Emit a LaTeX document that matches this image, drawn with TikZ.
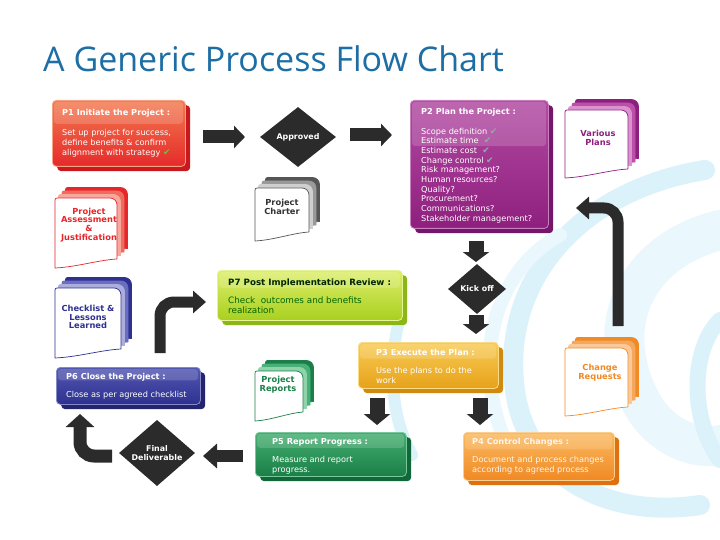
\documentclass[tikz,border=0pt]{standalone}
\usepackage{fontspec}
\setmainfont{Liberation Sans}
\newfontfamily\boxfont{DejaVu Sans}
\newfontfamily\titlefont{Open Sans}
\newfontfamily\symfont{DejaVu Sans}
\usetikzlibrary{shapes.geometric,arrows.meta}
\definecolor{titleblue}{HTML}{1C6EA4}
\definecolor{arrowgray}{HTML}{2B2B2B}
\definecolor{swirlA}{HTML}{DBF2FB}
\definecolor{swirlB}{HTML}{EAF8FD}
% box colours
\definecolor{pOneT}{HTML}{F37A50}\definecolor{pOneB}{HTML}{E52A2A}\definecolor{pOneS}{HTML}{C8191E}
\definecolor{pTwoT}{HTML}{B24AA2}\definecolor{pTwoB}{HTML}{8E1F7E}\definecolor{pTwoS}{HTML}{74176A}
\definecolor{pSevT}{HTML}{DDEE6A}\definecolor{pSevB}{HTML}{A9D020}\definecolor{pSevS}{HTML}{8CB516}
\definecolor{pThrT}{HTML}{F8CB55}\definecolor{pThrB}{HTML}{E7A21A}\definecolor{pThrS}{HTML}{D08A10}
\definecolor{pSixT}{HTML}{5257B0}\definecolor{pSixB}{HTML}{2E3190}\definecolor{pSixS}{HTML}{23266E}
\definecolor{pFivT}{HTML}{44AE70}\definecolor{pFivB}{HTML}{1A7F47}\definecolor{pFivS}{HTML}{10683A}
\definecolor{pFouT}{HTML}{FABA60}\definecolor{pFouB}{HTML}{F08A24}\definecolor{pFouS}{HTML}{DE7010}
% document colours
\definecolor{dRedA}{HTML}{E5262B}\definecolor{dRedB}{HTML}{F06A5E}\definecolor{dRedC}{HTML}{F8A79C}
\definecolor{dBluA}{HTML}{2E3190}\definecolor{dBluB}{HTML}{6A6DC0}\definecolor{dBluC}{HTML}{ABADDD}
\definecolor{dGryA}{HTML}{555555}\definecolor{dGryB}{HTML}{999999}\definecolor{dGryC}{HTML}{CFCFCF}
\definecolor{dMagA}{HTML}{8E1F7E}\definecolor{dMagB}{HTML}{BA50A8}\definecolor{dMagC}{HTML}{DC92CF}
\definecolor{dOrnA}{HTML}{F08A24}\definecolor{dOrnB}{HTML}{F5A75E}\definecolor{dOrnC}{HTML}{FAC99A}
\definecolor{dGrnA}{HTML}{1A8048}\definecolor{dGrnB}{HTML}{4AB07A}\definecolor{dGrnC}{HTML}{8FD3AB}
\definecolor{chkGreen}{HTML}{6DBE45}
\definecolor{chkGray}{HTML}{8EAEA6}
\tikzset{
  blk/.style={draw=arrowgray, line width=13pt, -{Triangle[length=11pt,width=22pt]}},
  elbow/.style={draw=arrowgray, line width=11pt, rounded corners=14pt, -{Triangle[length=13pt,width=22pt]}},
  boxside/.style={anchor=north west, rounded corners=4pt, inner sep=0pt},
  boxface/.style={anchor=north west, rounded corners=4pt, inner sep=0pt, line width=0.8pt},
  ttl/.style={anchor=west, font=\boxfont\bfseries\fontsize{8.2}{10}\selectfont, inner sep=0pt, text=white},
  bdy/.style={anchor=north west, align=left, font=\boxfont\fontsize{8.2}{9.9}\selectfont, inner sep=0pt, text=white},
  dia/.style={diamond, fill=arrowgray, text=white, font=\boxfont\bfseries\fontsize{7.9}{9.2}\selectfont, inner sep=0pt, align=center},
  doctxt/.style={align=center, font=\boxfont\bfseries\fontsize{8.3}{8.8}\selectfont, inner sep=0pt},
}
\newcommand\chk[1]{{\symfont\fontsize{9}{9}\selectfont\textcolor{#1}{✔}}}
\newcommand\procbox[8]{%
  \node[boxside, fill=#8, minimum width=#4, minimum height=#5] (#1s) at ({#2+5},{#3+5}) {};
  \node[boxface, top color=#6, bottom color=#7, draw=#6!70!white, minimum width=#4, minimum height=#5] (#1) at (#2,#3) {};
  \fill[white, opacity=0.16, rounded corners=3pt] ({#2+2},{#3+2}) rectangle ({#2+#4-2},{#3+0.36*#5});
}
\newcommand\docpage[6]{%
  \filldraw[fill=#5, draw=#6, line width=0.7pt, line join=round]
   ({#1},{#2+#4}) [rounded corners=2pt] -- ({#1},{#2}) [rounded corners=7pt] -- ({#1+#3},{#2}) [sharp corners]
   -- ({#1+#3},{#2+#4-9}) .. controls ({#1+0.7*#3},{#2+#4-8}) and ({#1+0.35*#3},{#2+#4-1}) .. ({#1},{#2+#4}) -- cycle;
}
\newcommand\docstack[7]{%
  \docpage{#1+10.5}{#2-10.5}{#3}{#4}{#5}{#5}
  \docpage{#1+7}{#2-7}{#3}{#4}{#6}{#6}
  \docpage{#1+3.5}{#2-3.5}{#3}{#4}{#7}{#7}
  \docpage{#1}{#2}{#3}{#4}{white}{#5}
}
\begin{document}
\begin{tikzpicture}[x=1pt,y=-1pt]
\useasboundingbox (0,0) rectangle (720,540);
\fill[white] (0,0) rectangle (720,540);
% background swirl
\begin{scope}[line cap=round]
\draw[swirlB, line width=40pt] (720,230) .. controls (640,250) and (600,320) .. (640,400) .. controls (660,440) and (700,450) .. (720,445);
\draw[swirlA, line width=20pt] (705,170) .. controls (580,190) and (500,280) .. (515,390) .. controls (525,470) and (600,520) .. (700,505);
\draw[swirlA, line width=12pt] (398,325) .. controls (388,370) and (392,420) .. (412,455);
\draw[swirlB, line width=14pt] (560,235) .. controls (480,280) and (470,390) .. (520,470);
\draw[swirlA, line width=16pt] (720,320) .. controls (690,350) and (690,420) .. (720,460);
\end{scope}
% title
\node[anchor=base west, font=\titlefont\fontsize{34}{38}\selectfont, text=titleblue, inner sep=0pt] (title) at (43,72) {A Generic Process Flow Chart};
% process boxes
\procbox{p1}{52}{100}{133}{66}{pOneT}{pOneB}{pOneS}
\procbox{p2}{410}{100}{138}{128}{pTwoT}{pTwoB}{pTwoS}
\procbox{p7}{217}{270}{185}{50}{pSevT}{pSevB}{pSevS}
\procbox{p3}{358}{342}{140}{46}{pThrT}{pThrB}{pThrS}
\procbox{p6}{56}{367}{144}{37}{pSixT}{pSixB}{pSixS}
\procbox{p5}{255}{432}{151}{44}{pFivT}{pFivB}{pFivS}
\procbox{p4}{463}{432}{151}{48}{pFouT}{pFouB}{pFouS}
% box texts
\node[ttl] (p1t) at (62,113) {P1 Initiate the Project :};
\node[bdy] (p1b) at (62,129.5) {Set up project for success,\\define benefits \& confirm\\alignment with strategy \chk{chkGreen}};
\node[ttl] (p2t) at (421,112) {P2 Plan the Project :};
\node[bdy, font=\boxfont\fontsize{8.2}{9.7}\selectfont] (p2b) at (421,127.6) {Scope definition \chk{chkGray}\\Estimate time\ \ \chk{chkGray}\\Estimate cost\ \ \chk{chkGray}\\Change control \chk{chkGray}\\Risk management?\\Human resources?\\Quality?\\Procurement?\\Communications?\\Stakeholder management?};
\node[ttl, text=black!85!green, font=\boxfont\bfseries\fontsize{8.7}{11}\selectfont] (p7t) at (228,283) {P7 Post Implementation Review :};
\node[bdy, text=black!60!green, font=\boxfont\fontsize{8.8}{10}\selectfont] (p7b) at (228,297) {Check\ \ outcomes and benefits\\realization};
\node[ttl] (p3t) at (376,352) {P3 Execute the Plan :};
\node[bdy] (p3b) at (376,367.5) {Use the plans to do the\\work};
\node[ttl] (p6t) at (66,377) {P6 Close the Project :};
\node[bdy] (p6b) at (66,391.5) {Close as per agreed checklist};
\node[ttl] (p5t) at (272,442) {P5 Report Progress :};
\node[bdy] (p5b) at (272,456.5) {Measure and report\\progress.};
\node[ttl, text=white!92!orange] (p4t) at (472,442) {P4 Control Changes :};
\node[bdy, text=white!92!orange] (p4b) at (472,456.5) {Document and process changes\\according to agreed process};
% documents
\docstack{255}{188}{54}{53}{dGryA}{dGryB}{dGryC}
\node[doctxt, text=black!80] (charter) at (282,207) {Project\\Charter};
\docstack{565}{110}{63}{68}{dMagA}{dMagB}{dMagC}
\node[doctxt, text=dMagA] (plans) at (598,138) {Various\\Plans};
\docstack{55}{198}{62}{70}{dRedA}{dRedB}{dRedC}
\node[doctxt, text=dRedA] (assess) at (89,225) {Project\\Assessment\\\&\\Justification};
\docstack{55}{288}{66}{70}{dBluA}{dBluB}{dBluC}
\node[doctxt, text=dBluA] (check) at (88,317) {Checklist \&\\Lessons\\Learned};
\docstack{255}{371}{48}{50}{dGrnA}{dGrnB}{dGrnC}
\node[doctxt, text=dGrnA] (reports) at (278,385) {Project\\Reports};
\docstack{565}{348}{63}{68}{dOrnA}{dOrnB}{dOrnC}
\node[doctxt, text=dOrnA] (chreq) at (600,373) {Change\\Requests};
% diamonds
\node[dia, minimum width=76pt, minimum height=60pt] (appr) at (298,137) {Approved};
\node[dia, minimum width=58pt, minimum height=50pt] (kick) at (477,289) {Kick off};
\node[dia, minimum width=76pt, minimum height=56pt] (final) at (157,453) {Final\\Deliverable};
% connector end points
\coordinate (a1s) at (203,137); \coordinate (a1e) at (245,137);
\coordinate (a2s) at (350,135); \coordinate (a2e) at (392,135);
\coordinate (a3s) at (476,241); \coordinate (a3e) at (476,262);
\coordinate (a4s) at (476,315); \coordinate (a4e) at (476,334);
\coordinate (a5s) at (377,398); \coordinate (a5e) at (377,425);
\coordinate (a6s) at (480,398); \coordinate (a6e) at (480,425);
\coordinate (a7s) at (243,456); \coordinate (a7e) at (203,456);
\coordinate (a8s) at (112,456); \coordinate (a8e) at (80,414);
\coordinate (a9s) at (160,353); \coordinate (a9e) at (206,302);
\coordinate (a10s) at (618,326); \coordinate (a10e) at (576,208);
% connectors
\draw[blk] (a1s) -- (a1e);
\draw[blk] (a2s) -- (a2e);
\draw[blk, line width=15pt, -{Triangle[length=10pt,width=26pt]}] (a3s) -- (a3e);
\draw[blk, line width=15pt, -{Triangle[length=10pt,width=26pt]}] (a4s) -- (a4e);
\draw[blk, line width=15pt, -{Triangle[length=11pt,width=26pt]}] (a5s) -- (a5e);
\draw[blk, line width=15pt, -{Triangle[length=11pt,width=26pt]}] (a6s) -- (a6e);
\draw[blk, line width=12pt, -{Triangle[length=14pt,width=24pt]}] (a7s) -- (a7e);
\draw[elbow, line width=13pt, -{Triangle[length=13pt,width=28pt]}] (a8s) -| (a8e);
\draw[elbow] (a9s) |- (a9e);
\draw[elbow] (a10s) |- (a10e);
\end{tikzpicture}
\end{document}
